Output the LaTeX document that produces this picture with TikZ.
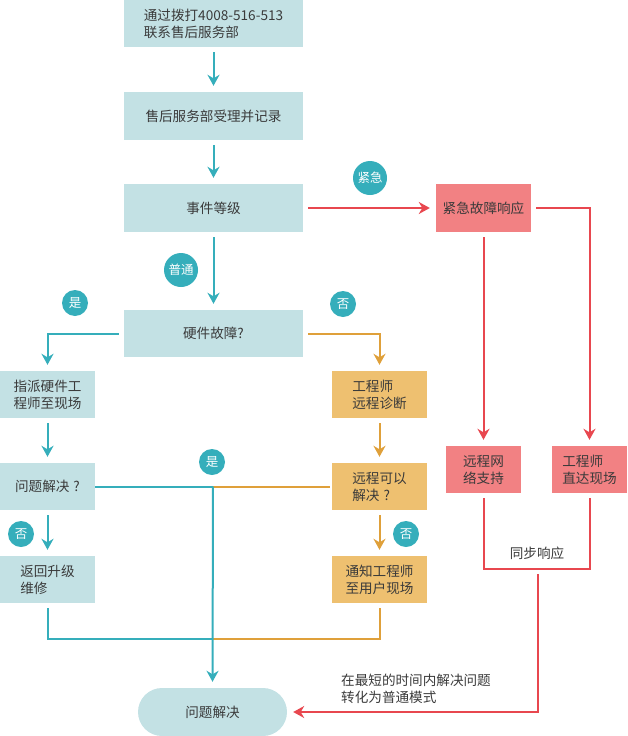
\documentclass[tikz,border=0pt]{standalone}
\usepackage{fontspec}
\setmainfont{Noto Sans CJK SC}
\usetikzlibrary{arrows.meta}
\definecolor{tealfill}{HTML}{C3E1E4}
\definecolor{tealline}{HTML}{35AEBB}
\definecolor{orfill}{HTML}{EEC070}
\definecolor{orline}{HTML}{DFA03A}
\definecolor{redfill}{HTML}{F28183}
\definecolor{redline}{HTML}{E8474F}
\definecolor{txt}{HTML}{3A3A3A}
\tikzset{
  box/.style={rectangle, inner sep=0pt, align=left, text=txt, font=\fontsize{13.6}{17}\selectfont},
  tbox/.style={box, fill=tealfill},
  obox/.style={box, fill=orfill},
  rbox/.style={box, fill=redfill},
  badge/.style={circle, fill=tealline, text=white, inner sep=0pt, font=\fontsize{12.5}{14}\selectfont},
  conn/.style={line width=2pt, shorten <=5pt, shorten >=6pt},
  tip/.style={-{Stealth[length=11pt,width=12pt,inset=3.5pt]}},
  tl/.style={conn, draw=tealline},
  ol/.style={conn, draw=orline},
  rl/.style={conn, draw=redline},
  lbl/.style={text=txt, font=\fontsize{13.6}{17}\selectfont, align=left, inner sep=0pt}
}
\begin{document}
\begin{tikzpicture}[x=1pt,y=-1pt]
\useasboundingbox (0,0) rectangle (628,736);
% main column
\node[tbox, minimum width=179pt, minimum height=47pt] (b1) at (213.5,23.5) {通过拨打4008-516-513\\联系售后服务部};
\node[tbox, minimum width=179pt, minimum height=48pt] (b2) at (213.5,116) {售后服务部受理并记录};
\node[tbox, minimum width=179pt, minimum height=48pt] (b3) at (213.5,208) {事件等级};
\node[rbox, minimum width=95pt, minimum height=48pt] (urg) at (483.5,208) {紧急故障响应};
\node[tbox, minimum width=179pt, minimum height=47pt] (hw) at (213.5,333.5) {硬件故障?};
\node[tbox, minimum width=95pt, minimum height=47pt] (assign) at (47.5,394.5) {指派硬件工\\程师至现场};
\node[obox, minimum width=95pt, minimum height=47pt] (remote) at (379.5,394.5) {工程师\\远程诊断};
\node[tbox, minimum width=95pt, minimum height=47pt] (solved) at (47.5,486.5) {问题解决\hspace{4pt}?};
\node[obox, minimum width=95pt, minimum height=47pt] (canr) at (379.5,486.5) {远程可以\\解决\hspace{4pt}?};
\node[tbox, minimum width=95pt, minimum height=47pt] (back) at (47.5,579.5) {返回升级\\维修};
\node[obox, minimum width=95pt, minimum height=47pt] (notify) at (379.5,579.5) {通知工程师\\至用户现场};
\node[rbox, minimum width=75pt, minimum height=47pt] (rnet) at (483.5,469.5) {远程网\\络支持};
\node[rbox, minimum width=75pt, minimum height=47pt] (eng) at (589.5,469.5) {工程师\\直达现场};
\node[box, fill=tealfill, rounded corners=24pt, minimum width=149pt, minimum height=48pt] (end) at (212.5,712) {问题解决};
% coordinates
\coordinate (j1) at (213,486.5);
\coordinate (j2) at (213,639);
\coordinate (sync) at (537,569);
\coordinate (s2) at (538,574);
% connectors
\draw[tl,tip] (b1) -- (b2);
\draw[tl,tip] (b2) -- (b3);
\draw[rl,tip] (b3) -- (urg);
\draw[tl,tip] (b3) -- (hw);
\draw[tl,tip] (hw.west) -| (assign.north);
\draw[ol,tip] (hw.east) -| (remote.north);
\draw[tl,tip] (assign) -- (solved);
\draw[ol,tip] (remote) -- (canr);
\draw[tl,tip] (solved) -- (back);
\draw[ol,tip] (canr) -- (notify);
\draw[ol,shorten >=0pt,shorten <=2pt] (canr.west) -- (j1);
\draw[ol,shorten >=0pt] (notify.south) |- (j2);
\draw[tl,shorten >=0pt,shorten <=0pt] (solved.east) -- (j1);
\draw[tl,shorten >=0pt] (back.south) |- (j2);
\draw[tl,tip,shorten <=0pt] (j1) -- (end.north);
\draw[rl,tip] (urg.south) -- (rnet.north);
\draw[rl,tip] (urg.east) -| (eng.north);
\draw[rl,shorten >=0pt] (rnet.south) |- (sync);
\draw[rl,shorten >=0pt] (eng.south) |- (sync);
\draw[rl,tip,shorten <=0pt] (s2) |- (end.east);
% badges
\node[badge, minimum size=34pt] (bu) at (370,178) {紧急};
\node[badge, minimum size=34pt] (bn) at (181,270) {普通};
\node[badge, minimum size=26pt] (by1) at (75,303) {是};
\node[badge, minimum size=26pt] (bf1) at (343,304) {否};
\node[badge, minimum size=26pt] (by2) at (212,462) {是};
\node[badge, minimum size=26pt] (bf2) at (21,534) {否};
\node[badge, minimum size=26pt] (bf3) at (406,534) {否};
% labels
\node[lbl] (ls) at (537,553) {同步响应};
\node[lbl, anchor=west] (lm) at (341,689) {在最短的时间内解决问题\\转化为普通模式};
\end{tikzpicture}
\end{document}
